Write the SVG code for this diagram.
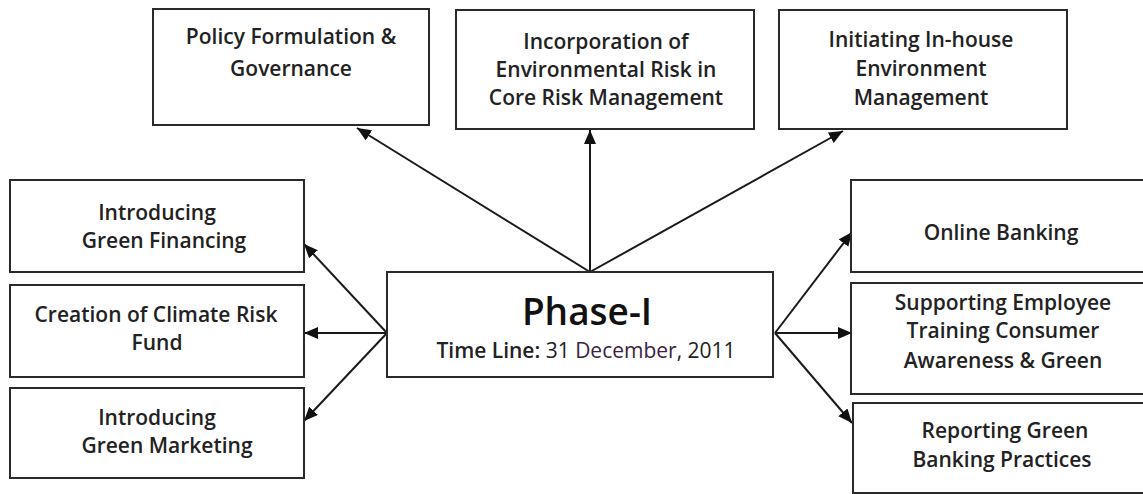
<svg xmlns="http://www.w3.org/2000/svg" width="1143" height="494" viewBox="0 0 1143 494">
<style>
.box{fill:#fff;stroke:#2a2a2a;stroke-width:2}
.t{font-family:"Open Sans","Noto Sans",sans-serif;font-size:21px;font-weight:600;fill:#222;text-anchor:middle}
.c{stroke:#1a1a1a;stroke-width:2;fill:none;marker-end:url(#ah)}
</style>
<defs>
<marker id="ah" markerUnits="userSpaceOnUse" markerWidth="16" markerHeight="14" refX="14" refY="6" orient="auto">
<path d="M0,0 L14,6 L0,12 z" fill="#111"/>
</marker>
</defs>
<rect width="1143" height="494" fill="#fff"/>
<g id="connectors">
<line class="c" x1="590" y1="272" x2="357" y2="128"/>
<line class="c" x1="590" y1="272" x2="590" y2="130"/>
<line class="c" x1="590" y1="272" x2="843" y2="131"/>
<line class="c" x1="387" y1="333" x2="304" y2="244"/>
<line class="c" x1="387" y1="333" x2="304" y2="333"/>
<line class="c" x1="387" y1="333" x2="304" y2="421"/>
<line class="c" x1="775" y1="333" x2="852" y2="232"/>
<line class="c" x1="775" y1="333" x2="852" y2="333"/>
<line class="c" x1="775" y1="333" x2="852" y2="423"/>
</g>
<g id="policy">
<rect class="box" x="153" y="9" width="276" height="116"/>
<text class="t" x="291" y="44">Policy Formulation &amp;</text>
<text class="t" x="291" y="76">Governance</text>
</g>
<g id="incorporation">
<rect class="box" x="456" y="10" width="298" height="119"/>
<text class="t" x="606" y="49">Incorporation of</text>
<text class="t" x="606" y="77">Environmental Risk in</text>
<text class="t" x="606" y="105">Core Risk Management</text>
</g>
<g id="inhouse">
<rect class="box" x="779" y="10" width="288" height="119"/>
<text class="t" x="921" y="47">Initiating In-house</text>
<text class="t" x="921" y="76">Environment</text>
<text class="t" x="921" y="105">Management</text>
</g>
<g id="financing">
<rect class="box" x="10" y="180" width="294" height="92"/>
<text class="t" x="157" y="220">Introducing</text>
<text class="t" x="164" y="248">Green Financing</text>
</g>
<g id="climate">
<rect class="box" x="10" y="285" width="294" height="92"/>
<text class="t" x="156" y="322">Creation of Climate Risk</text>
<text class="t" x="157" y="350">Fund</text>
</g>
<g id="marketing">
<rect class="box" x="10" y="388" width="294" height="90"/>
<text class="t" x="157" y="425">Introducing</text>
<text class="t" x="167" y="453">Green Marketing</text>
</g>
<g id="phase">
<rect class="box" x="387" y="272" width="386" height="105"/>
<text class="t" x="587" y="325" style="font-size:37px;font-weight:600;fill:#111">Phase-I</text>
<text class="t" x="586" y="358" style="font-weight:400"><tspan font-weight="600">Time Line:</tspan> 31 <tspan fill="#3a2440">December</tspan>, 2011</text>
</g>
<g id="online">
<rect class="box" x="851" y="180" width="300" height="92"/>
<text class="t" x="1001" y="240">Online Banking</text>
</g>
<g id="training">
<rect class="box" x="851" y="283" width="300" height="111"/>
<text class="t" x="1003" y="310">Supporting Employee</text>
<text class="t" x="1003" y="338">Training Consumer</text>
<text class="t" x="1003" y="368">Awareness &amp; Green</text>
</g>
<g id="reporting">
<rect class="box" x="853" y="403" width="300" height="90"/>
<text class="t" x="1005" y="438">Reporting Green</text>
<text class="t" x="1002" y="467">Banking Practices</text>
</g>
</svg>
